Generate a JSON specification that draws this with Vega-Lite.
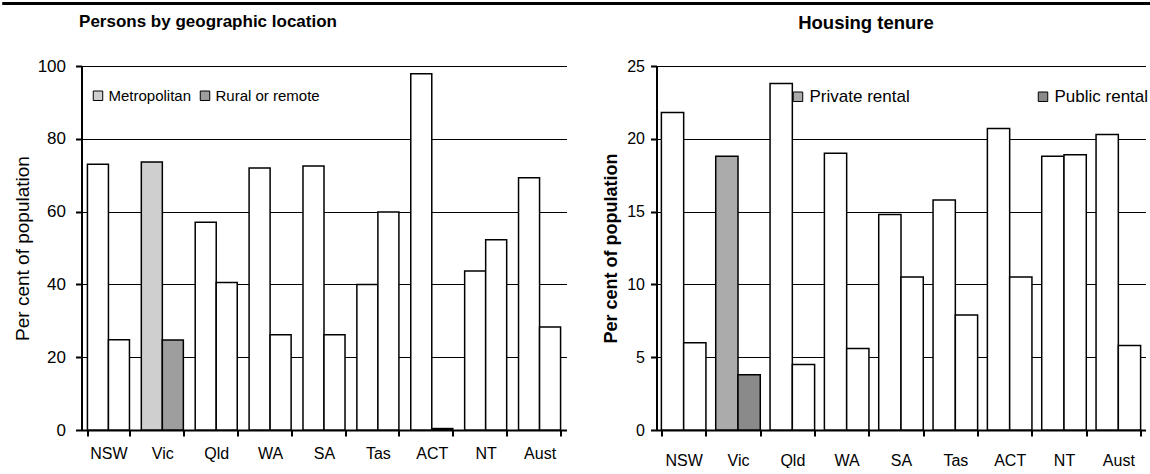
{
  "$schema": "https://vega.github.io/schema/vega-lite/v6.json",
  "background": "white",
  "padding": {"left": 0, "top": 2, "right": 0, "bottom": 0},
  "center": true,
  "spacing": 8,
  "config": {
    "font": "Liberation Sans",
    "view": {"stroke": null},
    "axis": {
      "labelFont": "Liberation Sans",
      "labelFontSize": 16,
      "labelColor": "black",
      "titleFont": "Liberation Sans",
      "titleFontSize": 17,
      "titleColor": "black",
      "domainColor": "black",
      "tickColor": "black",
      "gridColor": "black",
      "gridWidth": 1,
      "gridOpacity": 1
    },
    "legend": {
      "labelFont": "Liberation Sans",
      "labelFontSize": 15,
      "labelColor": "black",
      "symbolType": "square",
      "symbolSize": 90,
      "symbolStrokeColor": "black",
      "symbolStrokeWidth": 1
    },
    "title": {"font": "Liberation Sans", "fontSize": 17, "fontWeight": "bold", "color": "black"}
  },
  "datasets": {
    "frame": [{"v": 0}],
    "geo": [
      {"state": "NSW", "series": "Metropolitan", "value": 73.0},
      {"state": "NSW", "series": "Rural or remote", "value": 24.8},
      {"state": "Vic", "series": "Metropolitan", "value": 73.6},
      {"state": "Vic", "series": "Rural or remote", "value": 24.7},
      {"state": "Qld", "series": "Metropolitan", "value": 57.1},
      {"state": "Qld", "series": "Rural or remote", "value": 40.5},
      {"state": "WA", "series": "Metropolitan", "value": 72.0},
      {"state": "WA", "series": "Rural or remote", "value": 26.2},
      {"state": "SA", "series": "Metropolitan", "value": 72.5},
      {"state": "SA", "series": "Rural or remote", "value": 26.2},
      {"state": "Tas", "series": "Metropolitan", "value": 40.0},
      {"state": "Tas", "series": "Rural or remote", "value": 59.9},
      {"state": "ACT", "series": "Metropolitan", "value": 97.9},
      {"state": "ACT", "series": "Rural or remote", "value": 0.4},
      {"state": "NT", "series": "Metropolitan", "value": 43.7},
      {"state": "NT", "series": "Rural or remote", "value": 52.3},
      {"state": "Aust", "series": "Metropolitan", "value": 69.3},
      {"state": "Aust", "series": "Rural or remote", "value": 28.3}
    ],
    "tenure": [
      {"state": "NSW", "series": "Private rental", "value": 21.8},
      {"state": "NSW", "series": "Public rental", "value": 6.0},
      {"state": "Vic", "series": "Private rental", "value": 18.8},
      {"state": "Vic", "series": "Public rental", "value": 3.8},
      {"state": "Qld", "series": "Private rental", "value": 23.8},
      {"state": "Qld", "series": "Public rental", "value": 4.5},
      {"state": "WA", "series": "Private rental", "value": 19.0},
      {"state": "WA", "series": "Public rental", "value": 5.6},
      {"state": "SA", "series": "Private rental", "value": 14.8},
      {"state": "SA", "series": "Public rental", "value": 10.5},
      {"state": "Tas", "series": "Private rental", "value": 15.8},
      {"state": "Tas", "series": "Public rental", "value": 7.9},
      {"state": "ACT", "series": "Private rental", "value": 20.7},
      {"state": "ACT", "series": "Public rental", "value": 10.5},
      {"state": "NT", "series": "Private rental", "value": 18.8},
      {"state": "NT", "series": "Public rental", "value": 18.9},
      {"state": "Aust", "series": "Private rental", "value": 20.3},
      {"state": "Aust", "series": "Public rental", "value": 5.8}
    ]
  },
  "vconcat": [
    {
      "width": 1224,
      "height": 1,
      "data": {"name": "frame"},
      "mark": {"type": "rule", "strokeWidth": 3, "color": "black"},
      "encoding": {"y": {"field": "v", "type": "quantitative", "axis": null}}
    },
    {
      "spacing": 36,
      "resolve": {"scale": {"fill": "independent", "y": "independent", "x": "independent", "xOffset": "independent"}},
      "hconcat": [
        {
          "title": {"text": "Persons by geographic location", "anchor": "middle", "dx": -116, "offset": 26},
          "width": 485,
          "height": 364,
          "data": {"name": "geo"},
          "mark": {"type": "bar", "stroke": "black", "strokeWidth": 1.5},
          "encoding": {
            "x": {
              "field": "state", "type": "nominal",
              "sort": ["NSW", "Vic", "Qld", "WA", "SA", "Tas", "ACT", "NT", "Aust"],
              "scale": {"paddingInner": 0.22, "paddingOuter": 0.11},
              "axis": {"title": null, "labelAngle": 0, "tickBand": "extent", "domainWidth": 2, "tickWidth": 2, "tickSize": 6, "labelPadding": 9}
            },
            "xOffset": {
              "field": "series", "type": "nominal",
              "sort": ["Metropolitan", "Rural or remote"],
              "scale": {"paddingInner": 0, "paddingOuter": 0}
            },
            "y": {
              "field": "value", "type": "quantitative",
              "scale": {"domain": [0, 100], "nice": false},
              "axis": {"title": "Per cent of population", "titleFontWeight": "normal", "titleFontSize": 19, "labelFontSize": 17, "values": [0, 20, 40, 60, 80, 100], "domainWidth": 2, "tickWidth": 2, "tickSize": 6, "labelPadding": 10, "titlePadding": 5}
            },
            "fill": {
              "condition": {
                "test": "datum.state === 'Vic'",
                "field": "series", "type": "nominal",
                "scale": {"domain": ["Metropolitan", "Rural or remote"], "range": ["#cfcfcf", "#9e9e9e"]},
                "legend": {"title": null, "orient": "none", "legendX": 9, "legendY": 22, "direction": "horizontal", "columnPadding": 6, "labelOffset": 3}
              },
              "value": "white"
            }
          }
        },
        {
          "title": {"text": "Housing tenure", "anchor": "middle", "dx": -35, "offset": 26, "fontSize": 18.5},
          "width": 489,
          "height": 364,
          "data": {"name": "tenure"},
          "mark": {"type": "bar", "stroke": "black", "strokeWidth": 1.5},
          "encoding": {
            "x": {
              "field": "state", "type": "nominal",
              "sort": ["NSW", "Vic", "Qld", "WA", "SA", "Tas", "ACT", "NT", "Aust"],
              "scale": {"paddingInner": 0.18, "paddingOuter": 0.09},
              "axis": {"title": null, "labelAngle": 0, "tickBand": "extent", "domainWidth": 2, "tickWidth": 2, "tickSize": 6, "labelPadding": 16}
            },
            "xOffset": {
              "field": "series", "type": "nominal",
              "sort": ["Private rental", "Public rental"],
              "scale": {"paddingInner": 0, "paddingOuter": 0}
            },
            "y": {
              "field": "value", "type": "quantitative",
              "scale": {"domain": [0, 25], "nice": false},
              "axis": {"title": "Per cent of population", "titleFontWeight": "bold", "titleFontSize": 18, "values": [0, 5, 10, 15, 20, 25], "domainWidth": 2, "tickWidth": 2, "tickSize": 6, "labelPadding": 6, "titlePadding": 6}
            },
            "fill": {
              "condition": {
                "test": "datum.state === 'Vic'",
                "field": "series", "type": "nominal",
                "scale": {"domain": ["Private rental", "Public rental"], "range": ["#ababab", "#8a8a8a"]},
                "legend": {"title": null, "orient": "none", "legendX": 133, "legendY": 22, "direction": "horizontal", "columnPadding": 124, "labelOffset": 3, "labelFontSize": 17}
              },
              "value": "white"
            }
          }
        }
      ]
    }
  ]
}
